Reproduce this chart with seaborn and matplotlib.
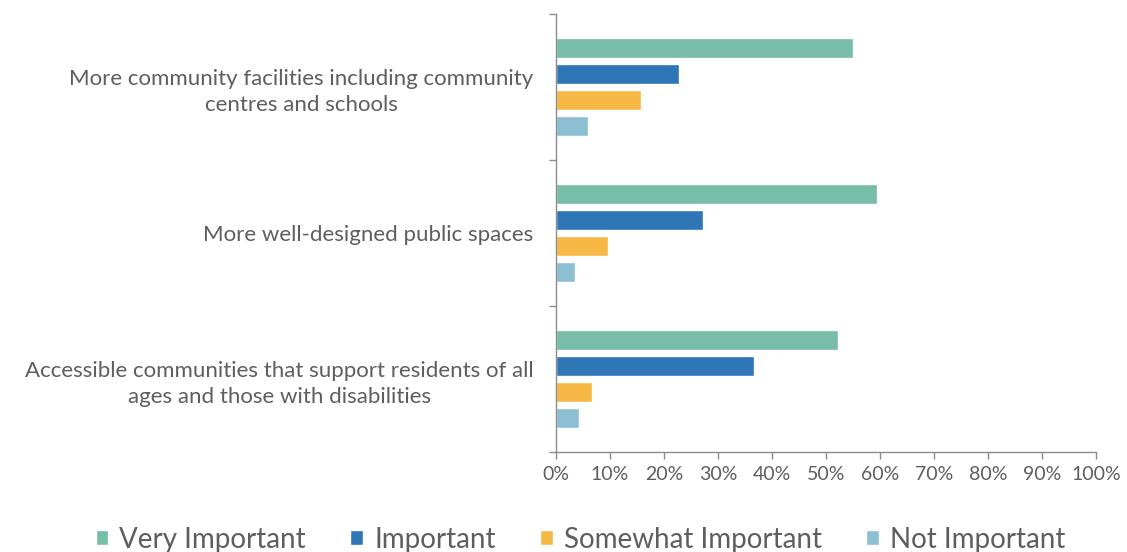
import matplotlib
matplotlib.use("Agg")
import matplotlib.pyplot as plt
import seaborn as sns
import pandas as pd

# Survey items and response shares (percent of respondents)
categories = [
    "More community facilities including community\ncentres and schools",
    "More well-designed public spaces",
    "Accessible communities that support residents of all\nages and those with disabilities",
]
responses = ["Very Important", "Important", "Somewhat Important", "Not Important"]
very_important = [55, 59.4, 52.2]
important = [22.8, 27.2, 36.7]
somewhat_important = [15.7, 9.6, 6.6]
not_important = [6.0, 3.5, 4.3]
x_ticks = [0, 10, 20, 30, 40, 50, 60, 70, 80, 90, 100]

colors = ["#77BDA8", "#2F76B7", "#F8B846", "#8DBFD2"]

series = [very_important, important, somewhat_important, not_important]
df = pd.DataFrame(
    [
        {"category": c, "response": r, "value": v}
        for r, vals in zip(responses, series)
        for c, v in zip(categories, vals)
    ]
)

sns.set_theme(style="white")
plt.rcParams["font.family"] = ["Lato", "DejaVu Sans"]

fig = plt.figure(figsize=(11.27, 5.52), dpi=100)
ax = fig.add_axes([0.4933, 0.1812, 0.4792, 0.7934])

sns.barplot(
    data=df, x="value", y="category", hue="response",
    order=categories, hue_order=responses, palette=colors,
    orient="h", width=0.71, gap=0.22, saturation=1, ax=ax, legend=True,
)

text_color = "#5E5E5E"
axis_color = "#8C8C8C"

ax.set_xlim(0, 100)
ax.set_ylim(2.5, -0.5)
ax.set_xticks(x_ticks)
ax.set_xticklabels([f"{t}%" for t in x_ticks], fontsize=14, color=text_color)
ax.set_xlabel("")
ax.set_ylabel("")

# Tick marks at group boundaries, labels centred on each group
ax.set_yticks([-0.5, 0.5, 1.5, 2.5])
ax.set_yticklabels([])
ax.set_yticks([0, 1, 2], minor=True)
ax.set_yticklabels(categories, minor=True, fontsize=16, color=text_color,
                   ha="right", multialignment="center", linespacing=1.38)
ax.tick_params(axis="y", which="minor", length=0, pad=16)
ax.tick_params(axis="y", which="major", length=5, width=1, color=axis_color, direction="out", left=True)
ax.tick_params(axis="x", length=5, width=1, color=axis_color, direction="out", bottom=True, pad=5)

for side in ["top", "right"]:
    ax.spines[side].set_visible(False)
for side in ["left", "bottom"]:
    ax.spines[side].set_color(axis_color)
    ax.spines[side].set_linewidth(1)

handles, labels = ax.get_legend_handles_labels()
ax.get_legend().remove()
fig.legend(
    handles, labels, loc="center", bbox_to_anchor=(0.515, 0.022), ncol=4,
    frameon=False, fontsize=20, handlelength=0.45, handleheight=0.45,
    handletextpad=0.4, columnspacing=1.6, labelcolor=text_color,
    borderpad=0.0,
)

fig.savefig("out.png", dpi=100)
